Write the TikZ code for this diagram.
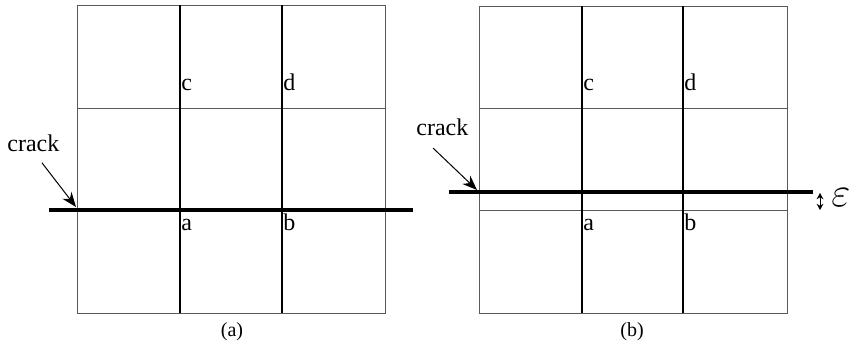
\documentclass[tikz,border=0pt]{standalone}
\usepackage{fontspec}
\setmainfont{Liberation Serif}
\usetikzlibrary{arrows.meta,positioning,calc}
\tikzset{
  cell/.style={draw=black!65, line width=0.5pt},
  spine/.style={draw=black, line width=0.6pt},
  crackline/.style={draw=black, line width=2pt},
  pointer/.style={-{Stealth[length=2.6mm,width=2mm]}, line width=0.5pt},
  gapmark/.style={{Stealth[length=1.1mm,width=1.2mm]}-{Stealth[length=1.1mm,width=1.2mm]}, line width=0.5pt},
  ptlabel/.style={font=\fontsize{12}{14}\selectfont, inner sep=0pt, anchor=base west},
  tag/.style={font=\fontsize{10}{12}\selectfont, inner sep=0pt, anchor=base}
}
\begin{document}
\begin{tikzpicture}[x=0.5pt,y=-0.5pt]
  \useasboundingbox (0,0) rectangle (850,344);
  % (a) crack along the element edge
  \draw[cell] (77,5) rectangle (385,313);
  \draw[cell] (77,108) -- (385,108);
  \foreach \x in {180,282} \draw[spine] (\x,5) -- (\x,313);
  \coordinate (leftA) at (49,210);
  \coordinate (rightA) at (413,210);
  \draw[crackline] (leftA) -- (rightA);
  \node[ptlabel] (cA) at (181,90) {c};
  \node[ptlabel] (dA) at (283,90) {d};
  \node[ptlabel] (aA) at (181,230) {a};
  \node[ptlabel] (bA) at (283,230) {b};
  \node[ptlabel] (crackA) at (7,151) {crack};
  \coordinate (tipA) at (76,207);
  \draw[pointer, shorten <=7pt] (crackA.south) -- (tipA);
  \node[tag] (capA) at (232,336) {(a)};
  % (b) crack shifted by epsilon
  \draw[cell] (479,6) rectangle (787,313);
  \draw[cell] (479,108) -- (787,108);
  \draw[cell] (479,210) -- (787,210);
  \foreach \x in {582,683} \draw[spine] (\x,6) -- (\x,313);
  \coordinate (leftB) at (449,192);
  \coordinate (rightB) at (813,192);
  \draw[crackline] (leftB) -- (rightB);
  \node[ptlabel] (cB) at (583,90) {c};
  \node[ptlabel] (dB) at (684,90) {d};
  \node[ptlabel] (aB) at (583,230) {a};
  \node[ptlabel] (bB) at (684,230) {b};
  \node[ptlabel] (crackB) at (416,135) {crack};
  \coordinate (tailB) at (433,148);
  \coordinate (tipB) at (477,190);
  \draw[pointer] (tailB) -- (tipB);
  \coordinate (gapTop) at (820,193);
  \coordinate (gapBot) at (820,210);
  \draw[gapmark] (gapTop) -- (gapBot);
  \node[anchor=west, inner sep=0pt, font=\fontsize{22}{24}\selectfont] (eps) at (831,198) {$\varepsilon$};
  \node[tag] (capB) at (632,336) {(b)};
\end{tikzpicture}
\end{document}
